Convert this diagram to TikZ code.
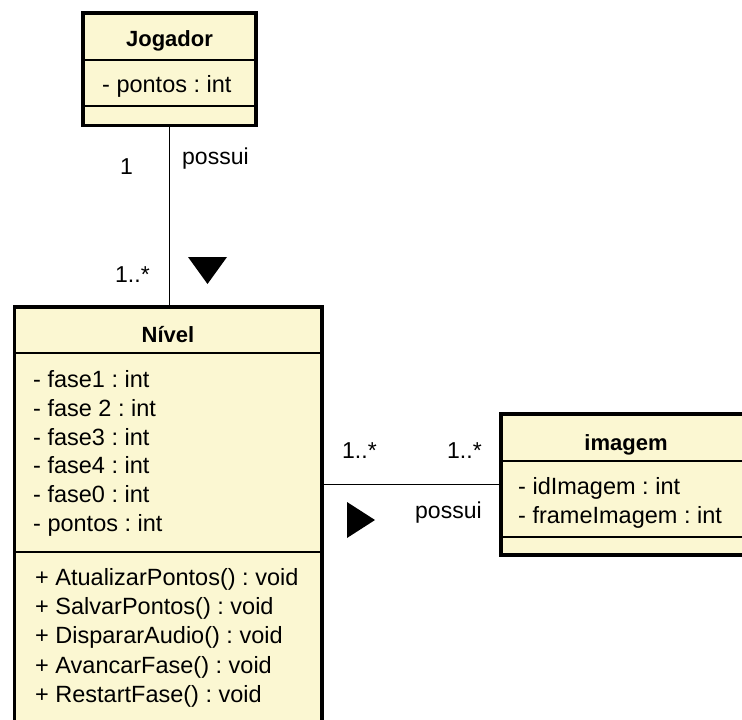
\documentclass[tikz,border=0pt]{standalone}
\usepackage{fontspec}
\setmainfont{Liberation Sans}
\usetikzlibrary{positioning}
\definecolor{clsfill}{RGB}{251,247,210}
\frenchspacing

\begin{document}
\begin{tikzpicture}[
  x=1pt,y=-1pt,
  cls/.style={draw, line width=3.5pt, fill=clsfill, inner sep=0pt, outer sep=0pt, anchor=north west},
  sep/.style={line width=1.5pt},
  title/.style={anchor=base, inner sep=0pt, font=\fontsize{22}{26}\selectfont\bfseries},
  member/.style={anchor=base west, inner sep=0pt, font=\fontsize{23.5}{29}\selectfont},
  lbl/.style={anchor=base west, inner sep=0pt, font=\fontsize{23}{29}\selectfont},
  assoc/.style={line width=1.5pt}
]
\useasboundingbox (0,0) rectangle (742,720);
\clip (0,0) rectangle (742,720);

% classes
\node[cls, minimum width=173pt, minimum height=112.5pt] (jogador) at (83,13) {};
\node[cls, minimum width=307.5pt, minimum height=450pt] (nivel) at (14.5,307) {};
\node[cls, minimum width=260pt, minimum height=141pt] (imagem) at (501,414) {};

% compartments
\draw[sep] (jogador.west |- 0,60) -- (jogador.east |- 0,60);
\draw[sep] (jogador.west |- 0,106) -- (jogador.east |- 0,106);
\draw[sep] (nivel.west |- 0,353) -- (nivel.east |- 0,353);
\draw[sep] (nivel.west |- 0,552) -- (nivel.east |- 0,552);
\draw[sep] (imagem.west |- 0,461) -- (imagem.east |- 0,461);
\draw[sep] (imagem.west |- 0,537) -- (imagem.east |- 0,537);

% titles
\node[title] (jogadorname) at (169.5,46) {Jogador};
\node[title] (nivelname) at (168,342) {Nível};
\node[title] (imagemname) at (626,450) {imagem};

% members
\node[member] (jpontos) at (102,92) {- pontos : int};

\node[member] (fase1) at (33,387) {- fase1 : int};
\node[member] (fase2) at (33,416) {- fase 2 : int};
\node[member] (fase3) at (33,445) {- fase3 : int};
\node[member] (fase4) at (33,473) {- fase4 : int};
\node[member] (fase0) at (33,502) {- fase0 : int};
\node[member] (npontos) at (33,531) {- pontos : int};

\node[member] (atualizar) at (35,585) {+ AtualizarPontos() : void};
\node[member] (salvar) at (35,614) {+ SalvarPontos() : void};
\node[member] (disparar) at (35,643) {+ DispararAudio() : void};
\node[member] (avancar) at (35,673) {+ AvancarFase() : void};
\node[member] (restart) at (35,702) {+ RestartFase() : void};

\node[member] (idimagem) at (518,494) {- idImagem : int};
\node[member] (frameimagem) at (518,523) {- frameImagem : int};

% associations
\draw[assoc] (jogador.south) -- (jogador.south |- nivel.north);
\draw[assoc] (imagem.west) -- (imagem.west -| nivel.east);

% labels
\node[lbl] (mult1) at (120,174) {1};
\node[lbl] (possui1) at (182,164) {possui};
\node[lbl] (mult2) at (115,282) {1..*};
\fill (188,257) -- (227,257) -- (207.5,284) -- cycle;

\node[lbl] (mult3) at (342,458) {1..*};
\node[lbl] (mult4) at (447,458) {1..*};
\node[lbl] (possui2) at (415,518) {possui};
\fill (347,502) -- (347,538) -- (375,520) -- cycle;
\end{tikzpicture}
\end{document}
